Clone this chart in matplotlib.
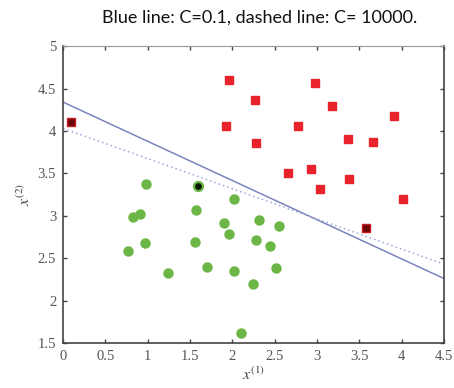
import matplotlib.pyplot as plt
import numpy as np

plt.rcParams["mathtext.fontset"] = "stix"

# class 1 (red squares)
red_x = [1.96, 2.98, 2.27, 3.18, 3.91, 1.92, 2.78, 3.37, 3.66, 2.28,
         2.66, 2.93, 3.03, 3.38, 4.01]
red_y = [4.60, 4.57, 4.37, 4.29, 4.18, 4.06, 4.06, 3.91, 3.87, 3.86,
         3.50, 3.55, 3.32, 3.43, 3.20]
red_outlier_x = [0.09, 3.58]
red_outlier_y = [4.10, 2.86]

# class 2 (green circles)
green_x = [0.98, 2.02, 0.82, 0.91, 1.57, 1.90, 2.31, 2.55, 1.96, 0.97,
           1.56, 2.28, 2.45, 0.77, 1.24, 1.70, 2.02, 2.24, 2.51, 2.10]
green_y = [3.38, 3.20, 2.99, 3.02, 3.07, 2.92, 2.95, 2.88, 2.78, 2.68,
           2.69, 2.71, 2.64, 2.59, 2.32, 2.40, 2.35, 2.20, 2.38, 1.62]
green_outlier_x = [1.59]
green_outlier_y = [3.35]

# decision boundaries (endpoints)
line_x = [0.0, 4.5]
solid_y = [4.34, 2.26]   # C = 0.1
dotted_y = [4.03, 2.43]  # C = 10000

xticks = [0, 0.5, 1, 1.5, 2, 2.5, 3, 3.5, 4, 4.5]
yticks = [1.5, 2, 2.5, 3, 3.5, 4, 4.5, 5]

RED = "#e8232b"
GREEN = "#6bb646"
LINE = "#7a85bf"
DOT = "#9ba6dc"

fig = plt.figure(figsize=(4.54, 3.88), dpi=100)
ax = fig.add_axes([0.139, 0.116, 0.839, 0.765])

ax.plot(line_x, solid_y, color=LINE, lw=1.1, zorder=2)
ax.plot(line_x, dotted_y, color=DOT, lw=1.1, ls=(0, (1, 2)), zorder=2)

ax.plot(red_x, red_y, ls="none", marker="s", ms=5.8, color=RED, zorder=3)
ax.plot(red_outlier_x, red_outlier_y, ls="none", marker="s", ms=5.8,
        mfc="#6a0606", mec="#c81a20", mew=1.0, zorder=3)
ax.plot(green_x, green_y, ls="none", marker="o", ms=6.5, color=GREEN, zorder=3)
ax.plot(green_outlier_x, green_outlier_y, ls="none", marker="o", ms=6.5,
        mfc="#0a1a05", mec=GREEN, mew=1.6, zorder=3)

ax.set_xlim(0, 4.5)
ax.set_ylim(1.5, 5)
ax.set_xticks(xticks)
ax.set_yticks(yticks)
ax.set_xticklabels([f"{v:g}" for v in xticks], fontfamily="Liberation Serif")
ax.set_yticklabels([f"{v:g}" for v in yticks], fontfamily="Liberation Serif")
ax.tick_params(direction="in", top=True, right=True, length=3, width=1,
               colors="#444444", labelcolor="#555555", labelsize=10.5, pad=5)
for side in ["left", "bottom", "right", "top"]:
    ax.spines[side].set_color("#444444")
    ax.spines[side].set_linewidth(1.2)
ax.spines["top"].set_color("#999999")
ax.spines["top"].set_linewidth(0.8)

ax.set_xlabel(r"$x^{(1)}$", fontsize=11.5, color="#444444", labelpad=2)
ax.set_ylabel(r"$x^{(2)}$", fontsize=11.5, color="#444444", labelpad=3)

fig.text(0.571, 0.954, "Blue line: C=0.1, dashed line: C= 10000.",
         ha="center", va="center", fontsize=13, family="Lato",
         color="#111111")

fig.savefig("out.png", dpi=100)
